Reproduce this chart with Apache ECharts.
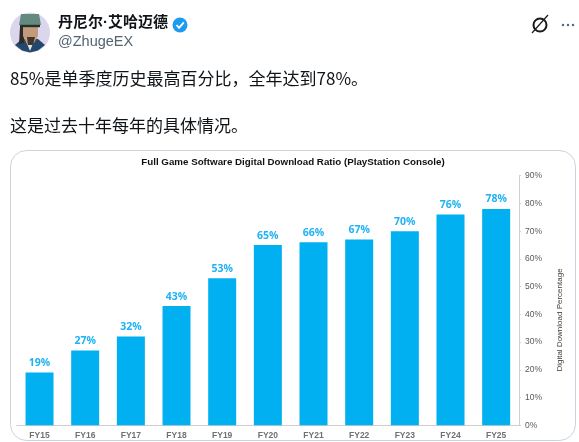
<!DOCTYPE html>
<html>
<head>
<meta charset="utf-8">
<style>
html, body { margin: 0; padding: 0; background: #fff; }
#chart { width: 579px; height: 442px; }
</style>
<script src="https://cdn.jsdelivr.net/npm/echarts@6/dist/echarts.min.js"></script>
</head>
<body>
<div id="chart"></div>
<script>
var categories = ['FY15', 'FY16', 'FY17', 'FY18', 'FY19', 'FY20', 'FY21', 'FY22', 'FY23', 'FY24', 'FY25'];
var ratioValues = [19, 27, 32, 43, 53, 65, 66, 67, 70, 76, 78];
var chartTitle = 'Full Game Software Digital Download Ratio (PlayStation Console)';
var axisName = 'Digital Download Percentage';
var userName = '丹尼尔·艾哈迈德';
var userHandle = '@ZhugeEX';
var tweetLine1 = '85%是单季度历史最高百分比，全年达到78%。';
var tweetLine2 = '这是过去十年每年的具体情况。';

var cjk = '"Noto Sans CJK SC", "Noto Sans", sans-serif';
var latin = '"Liberation Sans", Arial, sans-serif';

var chart = echarts.init(document.getElementById('chart'));

// tweet header + card frame, not data
var graphics = [
    { type: 'rect', z: 0, shape: { x: 10.5, y: 150.5, width: 565, height: 290, r: 16 },
      style: { fill: '#fff', stroke: '#c9d3dc', lineWidth: 1 } },
    // avatar
    { type: 'circle', shape: { cx: 30, cy: 32.5, r: 20 }, style: { fill: '#dcd6ec' } },
    { type: 'polygon', shape: { points: [[15, 45], [22, 39], [38, 39], [45, 45], [38, 50.5], [30, 52.5], [22, 50.5]] }, style: { fill: '#24486b' } },
    { type: 'polygon', shape: { points: [[26, 41], [34, 41], [30, 51]] }, style: { fill: '#e9e4da' } },
    { type: 'polygon', shape: { points: [[20, 27], [24, 27], [24, 43], [19, 44]] }, style: { fill: '#2c2a2a' } },
    { type: 'polygon', shape: { points: [[23, 26], [38, 26], [38, 36], [34, 43], [27, 44], [23, 36]] }, style: { fill: '#c39a7c' } },
    { type: 'polygon', shape: { points: [[27, 37], [35, 37], [33, 45], [28, 45]] }, style: { fill: '#3f362f' } },
    { type: 'polygon', shape: { points: [[21, 14], [39, 14], [41, 25], [19, 25]] }, style: { fill: '#64897f' } },
    { type: 'line', shape: { x1: 20, y1: 26, x2: 40, y2: 26 }, style: { stroke: '#23302c', lineWidth: 2.4 } },
    // verified badge
    { type: 'circle', shape: { cx: 180, cy: 25, r: 7.5 }, style: { fill: '#1d9bf0' } },
    { type: 'polyline', shape: { points: [[176.5, 25], [179, 27.8], [183.8, 22.3]] }, style: { stroke: '#fff', lineWidth: 1.8, fill: null } },
    // grok + more icons
    { type: 'circle', shape: { cx: 540, cy: 25, r: 6.5 }, style: { fill: null, stroke: '#1a1a1a', lineWidth: 2 } },
    { type: 'line', shape: { x1: 532, y1: 33, x2: 548, y2: 15 }, style: { stroke: '#1a1a1a', lineWidth: 1.2 } },
    { type: 'circle', shape: { cx: 563, cy: 25, r: 1.2 }, style: { fill: '#536471' } },
    { type: 'circle', shape: { cx: 568, cy: 25, r: 1.2 }, style: { fill: '#536471' } },
    { type: 'circle', shape: { cx: 573, cy: 25, r: 1.2 }, style: { fill: '#536471' } },
    { type: 'text', x: 58, y: 23, style: { text: userName, font: 'bold 15px "Liberation Sans", ' + cjk, fill: '#0f1419', textVerticalAlign: 'middle' } },
    { type: 'text', x: 58, y: 42, style: { text: userHandle, font: '14.5px ' + latin, fill: '#536471', textVerticalAlign: 'middle' } },
    { type: 'text', x: 10, y: 79, style: { text: tweetLine1, font: '17px ' + cjk, fill: '#0f1419', textVerticalAlign: 'middle' } },
    { type: 'text', x: 10, y: 126, style: { text: tweetLine2, font: '17px ' + cjk, fill: '#0f1419', textVerticalAlign: 'middle' } },
    { type: 'text', x: 293, y: 162, style: { text: chartTitle, font: 'bold 9.75px ' + latin, fill: '#111', textAlign: 'center', textVerticalAlign: 'middle' } },
    { type: 'text', x: 559.5, y: 320, rotation: Math.PI / 2, style: { text: axisName, font: '8px ' + latin, fill: '#404040', textAlign: 'center', textVerticalAlign: 'middle' } }
];

var option = {
    animation: false,
    backgroundColor: '#fff',
    graphic: graphics,
    grid: { left: 16.7, right: 60, top: 175.7, bottom: 16.7 },
    xAxis: {
        type: 'category',
        data: categories,
        axisLine: { lineStyle: { color: '#cfcfcf', width: 1 } },
        axisTick: { show: false },
        axisLabel: { color: '#707070', fontSize: 8.5, fontWeight: 'bold', fontFamily: latin, margin: 6 }
    },
    yAxis: {
        type: 'value',
        position: 'right',
        min: 0,
        max: 90,
        interval: 10,
        splitLine: { show: false },
        axisLine: { show: true, lineStyle: { color: '#cfcfcf', width: 1 } },
        axisTick: { show: true, length: 2, lineStyle: { color: '#cfcfcf' } },
        axisLabel: { color: '#5a5a5a', fontSize: 8.5, fontFamily: latin, margin: 6, formatter: '{value}%' }
    },
    series: [{
        type: 'bar',
        data: ratioValues,
        barWidth: 28,
        itemStyle: { color: '#00b0f0' },
        label: {
            show: true,
            position: 'top',
            distance: 4,
            color: '#1fb2f5',
            fontSize: 10.5,
            fontWeight: 'bold',
            fontFamily: '"Open Sans", sans-serif',
            formatter: '{c}%'
        }
    }]
};
chart.setOption(option);
</script>
</body>
</html>
